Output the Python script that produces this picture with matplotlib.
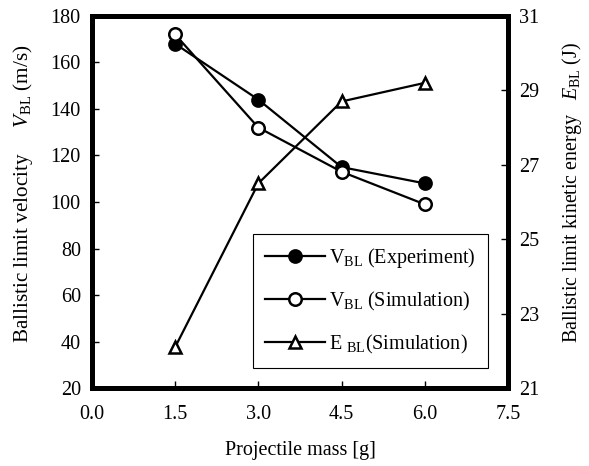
import matplotlib
matplotlib.use("Agg")
import matplotlib.pyplot as plt
from matplotlib.ticker import FormatStrFormatter

plt.rcParams['font.family'] = ['Liberation Serif', 'DejaVu Serif']
plt.rcParams['mathtext.fontset'] = 'custom'
plt.rcParams['mathtext.rm'] = 'Liberation Serif'
plt.rcParams['mathtext.it'] = 'Liberation Serif:italic'
plt.rcParams['font.size'] = 14

# Projectile mass [g]
mass = [1.5, 3.0, 4.5, 6.0]
# Ballistic limit velocity [m/s]
v_experiment = [168, 144, 115, 108]
v_simulation = [172, 132, 113, 99]
# Ballistic limit kinetic energy [J]
e_simulation = [22.1, 26.5, 28.7, 29.2]

fig = plt.figure(figsize=(5.89, 4.66), dpi=100)
ax = fig.add_axes([0.156, 0.167, 0.7065, 0.799])
ax2 = ax.twinx()

lw = 1.6
ms = 9
h1, = ax.plot(mass, v_experiment, color='black', lw=lw, marker='o', ms=ms,
              mfc='black', mec='black', mew=1.6, label=r'V$_{\mathrm{BL}}$ (Experiment)')
h2, = ax.plot(mass, v_simulation, color='black', lw=lw, marker='o', ms=ms,
              mfc='white', mec='black', mew=1.8, label=r'V$_{\mathrm{BL}}$ (Simulation)')
h3, = ax2.plot(mass, e_simulation, color='black', lw=lw, marker='^', ms=ms,
               mfc='white', mec='black', mew=1.8, label=r'E $_{\mathrm{BL}}$(Simulation)')

ax.set_xlim(0, 7.5)
ax.set_ylim(20, 180)
ax2.set_ylim(21, 31)
ax.set_xticks([0.0, 1.5, 3.0, 4.5, 6.0, 7.5])
ax.xaxis.set_major_formatter(FormatStrFormatter('%.1f'))
ax.set_yticks(range(20, 181, 20))
ax2.set_yticks(range(21, 32, 2))

for a in (ax, ax2):
    for s in a.spines.values():
        s.set_linewidth(3.6)
        s.set_color('black')
ax.tick_params(axis='both', direction='in', length=5, width=1, labelsize=14.5, pad=8)
ax.tick_params(axis='x', pad=12)
ax2.tick_params(axis='y', direction='in', length=5, width=1, labelsize=14.5, pad=8)

ax.set_xlabel('Projectile mass [g]', fontsize=14.5, labelpad=12)
ax.set_ylabel(r'Ballistic limit velocity     $V_{\mathrm{BL}}$ (m/s)', fontsize=15.2)
ax.yaxis.set_label_coords(-0.136, 0.522)
ax2.set_ylabel(r'Ballistic limit kinetic energy   $E_{\mathrm{BL}}$ (J)', fontsize=14.4,
               rotation=90)
ax2.yaxis.set_label_coords(1.126, 0.526)

leg = ax2.legend(handles=[h1, h2, h3], loc='lower right', bbox_to_anchor=(0.952, 0.054),
                 borderaxespad=0, fontsize=14.5, fancybox=False, framealpha=1,
                 edgecolor='black', handlelength=3.0, labelspacing=1.0,
                 borderpad=0.6, handletextpad=0.2)
leg.get_frame().set_linewidth(0.8)

fig.savefig('out.png', dpi=100)
